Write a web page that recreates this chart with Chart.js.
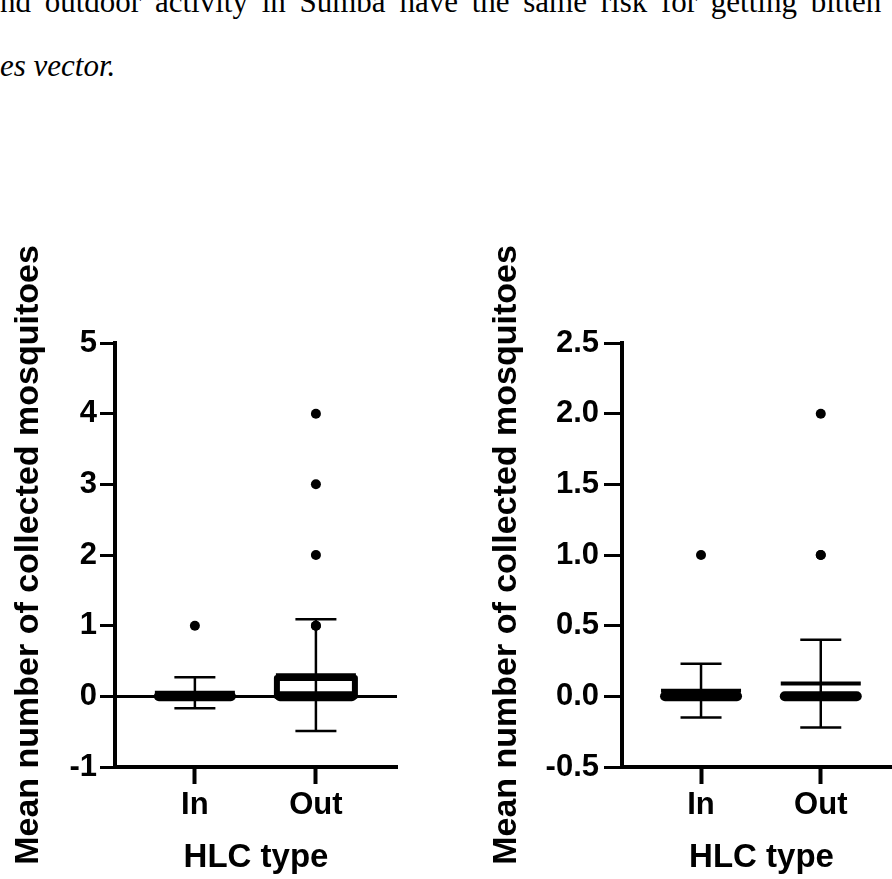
<!DOCTYPE html>
<html>
<head>
<meta charset="utf-8">
<script src="https://cdn.jsdelivr.net/npm/chart.js@4.4.1/dist/chart.umd.min.js"></script>
<style>
  html, body { margin: 0; padding: 0; background: #fff; overflow: hidden; width: 892px; height: 879px; }
  .txt { position: absolute; left: 0; font-family: "Liberation Serif", "Times New Roman", serif; font-size: 31px; line-height: 31px; color: #000; white-space: nowrap; }
  #line1 { top: -14px; word-spacing: 6px; }
  #line2 { top: 50px; font-style: italic; }
  canvas { position: absolute; top: 0; }
  #leftChart { left: 0; }
  #rightChart { left: 446px; }
</style>
</head>
<body>
<div class="txt" id="line1">nd outdoor activity in Sumba have the same risk for getting bitten</div>
<div class="txt" id="line2">es vector.</div>
<canvas id="leftChart" width="446" height="879"></canvas>
<canvas id="rightChart" width="460" height="879"></canvas>
<script>
const groups = ['In', 'Out'];

// left panel
const leftTicks = [-1, 0, 1, 2, 3, 4, 5];
const leftMeans = [0.05, 0.30];
const leftSD = [0.22, 0.79];
const leftBoxTop = [0, 0.26];
const leftOutliers = [[1], [1, 1, 2, 3, 4]];

// right panel
const rightTicks = [-0.5, 0, 0.5, 1.0, 1.5, 2.0, 2.5];
const rightMeans = [0.04, 0.09];
const rightSD = [0.19, 0.31];
const rightBoxTop = [0, 0];
const rightOutliers = [[1], [1, 1, 2]];

const FONT = '"Liberation Sans", Arial, Helvetica, sans-serif';

// box, zero band, mean line and SD error bars, placed with the chart scales
const spreadPlugin = {
  id: 'spread',
  afterDatasetsDraw(chart, args, opts) {
    const ctx = chart.ctx;
    const xs = chart.scales.x, ys = chart.scales.y;
    const seg = (x1, y1, x2, y2) => { ctx.beginPath(); ctx.moveTo(x1, y1); ctx.lineTo(x2, y2); ctx.stroke(); };
    ctx.save();
    ctx.strokeStyle = '#000';
    opts.means.forEach((m, i) => {
      const x = xs.getPixelForValue(i + 1);
      const y0 = ys.getPixelForValue(0);
      if (opts.boxTop[i] > 0) {
        const yt = ys.getPixelForValue(opts.boxTop[i]);
        ctx.lineWidth = 6; ctx.lineJoin = 'round';
        ctx.strokeRect(x - 39, yt, 78, y0 - yt);
      }
      // zero values stacked into a band
      ctx.lineWidth = 10; ctx.lineCap = 'round';
      seg(x - 36, y0, x + 36, y0);
      // mean
      ctx.lineCap = 'butt';
      ctx.lineWidth = 4;
      const ym = ys.getPixelForValue(m);
      seg(x - 40, ym, x + 40, ym);
      // SD
      const yHi = ys.getPixelForValue(m + opts.sd[i]);
      const yLo = ys.getPixelForValue(m - opts.sd[i]);
      ctx.lineWidth = 2.5;
      seg(x, yHi, x, yLo);
      seg(x - 20.5, yHi, x + 20.5, yHi);
      seg(x - 20.5, yLo, x + 20.5, yLo);
    });
    ctx.restore();
  }
};

function makeChart(id, cfg) {
  const points = [];
  cfg.outliers.forEach((list, i) => list.forEach(v => points.push({ x: i + 1, y: v })));
  return new Chart(document.getElementById(id), {
    type: 'scatter',
    data: {
      datasets: [{
        data: points,
        pointRadius: 5,
        pointHoverRadius: 5,
        backgroundColor: '#000',
        borderWidth: 0
      }]
    },
    plugins: [spreadPlugin],
    options: {
      responsive: false,
      animation: false,
      events: [],
      layout: { padding: { top: 343, right: cfg.padRight, bottom: 0, left: 0 } },
      plugins: {
        legend: { display: false },
        tooltip: { enabled: false },
        spread: { means: cfg.means, sd: cfg.sd, boxTop: cfg.boxTop }
      },
      scales: {
        x: {
          type: 'linear',
          position: 'bottom',
          min: 0.34, max: 2.67,
          afterBuildTicks: s => { s.ticks = [{ value: 1 }, { value: 2 }]; },
          afterFit: s => { s.height = 112; },
          border: { display: true, color: '#000', width: 4 },
          grid: { drawOnChartArea: false, drawTicks: true, tickLength: 17, tickWidth: 4, tickColor: '#000' },
          ticks: {
            color: '#000', padding: 3,
            font: { family: FONT, size: 31, weight: 'bold' },
            callback: v => groups[v - 1]
          },
          title: {
            display: true, text: 'HLC type', color: '#000',
            padding: { top: 0, bottom: 1 },
            font: { family: FONT, size: 33, weight: 'bold' }
          }
        },
        y: {
          type: 'linear',
          min: cfg.ticks[0], max: cfg.ticks[cfg.ticks.length - 1],
          afterBuildTicks: s => { s.ticks = cfg.ticks.map(v => ({ value: v })); },
          afterFit: s => { s.width = cfg.yWidth; },
          border: { display: true, color: '#000', width: 4 },
          grid: {
            drawOnChartArea: cfg.zeroLine,
            drawTicks: true,
            tickLength: cfg.tickLength,
            tickWidth: 3,
            tickColor: '#000',
            color: c => (c.tick && c.tick.value === 0) ? '#000' : 'rgba(0,0,0,0)',
            lineWidth: 3
          },
          ticks: {
            color: '#000', padding: cfg.tickPad,
            font: { family: FONT, size: 31, weight: 'bold' },
            callback: cfg.fmt
          },
          title: {
            display: true, text: 'Mean number of collected mosquitoes', color: '#000',
            padding: { top: cfg.titlePad, bottom: 0 },
            font: { family: FONT, size: 34, weight: 'bold' }
          }
        }
      }
    }
  });
}

makeChart('leftChart', {
  ticks: leftTicks, means: leftMeans, sd: leftSD, boxTop: leftBoxTop, outliers: leftOutliers,
  padRight: 49, yWidth: 115, tickLength: 15, tickPad: 3, titlePad: 8, zeroLine: true,
  fmt: v => String(v)
});

makeChart('rightChart', {
  ticks: rightTicks, means: rightMeans, sd: rightSD, boxTop: rightBoxTop, outliers: rightOutliers,
  padRight: 3, yWidth: 176, tickLength: 18, tickPad: 5, titlePad: 40, zeroLine: false,
  fmt: v => v.toFixed(1)
});
</script>
</body>
</html>
